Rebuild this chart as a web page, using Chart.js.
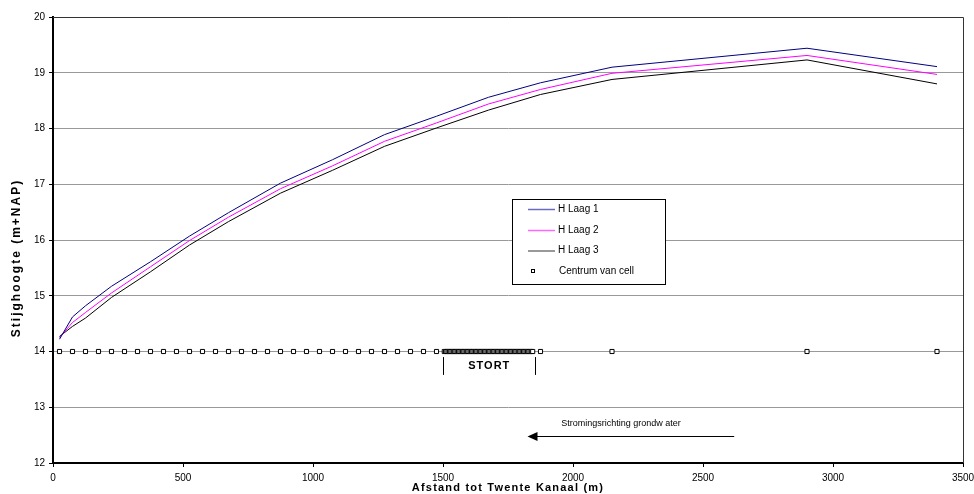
<!DOCTYPE html>
<html>
<head>
<meta charset="utf-8">
<script src="https://cdn.jsdelivr.net/npm/chart.js@4"></script>
<style>
  html, body { margin: 0; padding: 0; background: #fff; }
  #wrap { width: 974px; height: 494px; }
</style>
</head>
<body>
<div id="wrap"><canvas id="chart" width="974" height="494"></canvas></div>
<script>
// afstand (m) van de punten op de lijnen
const afstand = [25, 75, 125, 225, 375, 525, 675, 875, 1075, 1275, 1475, 1675, 1875, 2150, 2900, 3400];
// stijghoogte per laag (m+NAP)
const hLaag1 = [14.22, 14.62, 14.82, 15.17, 15.61, 16.07, 16.49, 17.02, 17.44, 17.89, 18.22, 18.56, 18.82, 19.10, 19.44, 19.11];
const hLaag2 = [14.25, 14.52, 14.70, 15.05, 15.52, 15.99, 16.41, 16.92, 17.33, 17.77, 18.10, 18.44, 18.70, 18.99, 19.31, 18.97];
const hLaag3 = [14.27, 14.45, 14.60, 14.97, 15.43, 15.91, 16.33, 16.84, 17.25, 17.68, 18.01, 18.33, 18.61, 18.88, 19.23, 18.80];

// celcentra (m) langs het profiel
const celX = [25, 75, 125, 175, 225, 275, 325, 375, 425, 475, 525, 575, 625, 675, 725,
  775, 825, 875, 925, 975, 1025, 1075, 1125, 1175, 1225, 1275, 1325, 1375, 1425, 1475,
  1505, 1510, 1515, 1520, 1525, 1530, 1535, 1540, 1545, 1550, 1555, 1560, 1565, 1570,
  1575, 1580, 1585, 1590, 1595, 1600, 1605, 1610, 1615, 1620, 1625, 1630, 1635, 1640,
  1645, 1650, 1655, 1660, 1665, 1670, 1675, 1680, 1685, 1690, 1695, 1700, 1705, 1710,
  1715, 1720, 1725, 1730, 1735, 1740, 1745, 1750, 1755, 1760, 1765, 1770, 1775, 1780,
  1785, 1790, 1795, 1800, 1805, 1810, 1815, 1820, 1825, 1830, 1835, 1840, 1845,
  1875, 2150, 2900, 3400];
const celNiveau = 14;

const xTicks = [0, 500, 1000, 1500, 2000, 2500, 3000, 3500];
const yTicks = [12, 13, 14, 15, 16, 17, 18, 19, 20];

const FONT = '"Liberation Sans", Arial, sans-serif';

function pts(xs, ys) {
    return xs.map((x, i) => ({ x: x, y: ys[i] }));
}

// frame, titels, legenda, stort en stroomrichting
const extras = {
    id: 'extras',
    afterDraw(chart) {
        const ctx = chart.ctx;
        const a = chart.chartArea;
        const xs = chart.scales.x, ys = chart.scales.y;
        ctx.save();

        // boven- en rechterrand
        ctx.strokeStyle = '#333';
        ctx.lineWidth = 1;
        ctx.beginPath();
        ctx.moveTo(a.left, a.top + 0.5);
        ctx.lineTo(a.right + 0.5, a.top + 0.5);
        ctx.lineTo(a.right + 0.5, a.bottom);
        ctx.stroke();

        // stort
        ctx.strokeStyle = '#000';
        [1500, 1855].forEach(v => {
            const px = Math.round(xs.getPixelForValue(v)) + 0.5;
            ctx.beginPath();
            ctx.moveTo(px, ys.getPixelForValue(13.9));
            ctx.lineTo(px, ys.getPixelForValue(13.58));
            ctx.stroke();
        });
        ctx.fillStyle = '#000';
        ctx.font = 'bold 11px ' + FONT;
        ctx.letterSpacing = '1px';
        ctx.textAlign = 'center';
        ctx.textBaseline = 'middle';
        ctx.fillText('STORT', xs.getPixelForValue(1678), ys.getPixelForValue(13.74));

        // stroomrichting
        const ay = Math.round(ys.getPixelForValue(12.48)) + 0.5;
        const x0 = xs.getPixelForValue(1825), x1 = xs.getPixelForValue(2620);
        ctx.beginPath();
        ctx.moveTo(x0 + 8, ay);
        ctx.lineTo(x1, ay);
        ctx.stroke();
        ctx.beginPath();
        ctx.moveTo(x0, ay);
        ctx.lineTo(x0 + 10, ay - 4.5);
        ctx.lineTo(x0 + 10, ay + 4.5);
        ctx.closePath();
        ctx.fill();
        ctx.font = '9px ' + FONT;
        ctx.letterSpacing = '0px';
        ctx.textAlign = 'left';
        ctx.fillText('Stromingsrichting grondw ater', xs.getPixelForValue(1955), ys.getPixelForValue(12.7));

        // astitels
        ctx.font = 'bold 11px ' + FONT;
        ctx.letterSpacing = '1.2px';
        ctx.textAlign = 'center';
        ctx.fillText('Afstand tot Twente Kanaal (m)', (a.left + a.right) / 2, 488);
        ctx.save();
        ctx.translate(17, 258);
        ctx.rotate(-Math.PI / 2);
        ctx.font = 'bold 12px ' + FONT;
        ctx.letterSpacing = '2px';
        ctx.fillText('Stijghoogte (m+NAP)', 0, 0);
        ctx.restore();
        ctx.letterSpacing = '0px';

        // legenda
        const lx = 512, ly = 199, lw = 153, lh = 85;
        ctx.fillStyle = '#fff';
        ctx.fillRect(lx, ly, lw, lh);
        ctx.strokeStyle = '#000';
        ctx.strokeRect(lx + 0.5, ly + 0.5, lw, lh);
        ctx.font = '10px ' + FONT;
        ctx.textAlign = 'left';
        const rows = [209, 230, 250.5];
        const legendColors = ['#6a6ac0', '#ff66ff', '#777777'];
        chart.data.datasets.slice(0, 3).forEach((ds, i) => {
            ctx.strokeStyle = legendColors[i];
            ctx.lineWidth = 1.5;
            ctx.beginPath();
            ctx.moveTo(528, rows[i] + 0.5);
            ctx.lineTo(555, rows[i] + 0.5);
            ctx.stroke();
            ctx.fillStyle = '#000';
            ctx.fillText(ds.label, 558, rows[i]);
        });
        ctx.lineWidth = 1;
        ctx.strokeStyle = '#000';
        ctx.fillStyle = '#fff';
        ctx.fillRect(531, 269, 4, 4);
        ctx.strokeRect(531.5, 269.5, 3, 3);
        ctx.fillStyle = '#000';
        ctx.fillText('Centrum van cell', 559, 271);

        ctx.restore();
    }
};

new Chart(document.getElementById('chart'), {
    type: 'scatter',
    data: {
        datasets: [
            { label: 'H Laag 1', data: pts(afstand, hLaag1), showLine: true, borderColor: '#000080', borderWidth: 1, pointRadius: 0, tension: 0 },
            { label: 'H Laag 2', data: pts(afstand, hLaag2), showLine: true, borderColor: '#ff00ff', borderWidth: 1, pointRadius: 0, tension: 0 },
            { label: 'H Laag 3', data: pts(afstand, hLaag3), showLine: true, borderColor: '#000000', borderWidth: 1, pointRadius: 0, tension: 0 },
            { label: 'Centrum van cell', data: celX.map(x => ({ x: x, y: celNiveau })), showLine: false,
              pointStyle: 'rect', pointRadius: 2.9, borderColor: '#000', backgroundColor: '#fff', borderWidth: 1 }
        ]
    },
    options: {
        responsive: false,
        animation: false,
        layout: { padding: { left: 0, right: 11, top: 17, bottom: 0 } },
        plugins: { legend: { display: false }, tooltip: { enabled: false } },
        scales: {
            x: {
                type: 'linear', min: 0, max: 3500,
                afterBuildTicks: s => { s.ticks = xTicks.map(v => ({ value: v })); },
                afterFit: s => { s.height = 31; s.paddingLeft = 0; s.paddingRight = 0; },
                ticks: { color: '#000', font: { family: FONT, size: 10 }, padding: 5, maxRotation: 0,
                         callback: v => String(v) },
                grid: { drawOnChartArea: false, tickLength: 4, tickColor: '#000' },
                border: { color: '#000', width: 2 }
            },
            y: {
                min: 12, max: 20,
                afterBuildTicks: s => { s.ticks = yTicks.map(v => ({ value: v })); },
                afterFit: s => { s.width = 53; },
                ticks: { color: '#000', font: { family: FONT, size: 10 }, padding: 4 },
                grid: { color: '#999', tickLength: 4, tickColor: '#000' },
                border: { color: '#000', width: 2 }
            }
        }
    },
    plugins: [extras]
});
</script>
</body>
</html>
